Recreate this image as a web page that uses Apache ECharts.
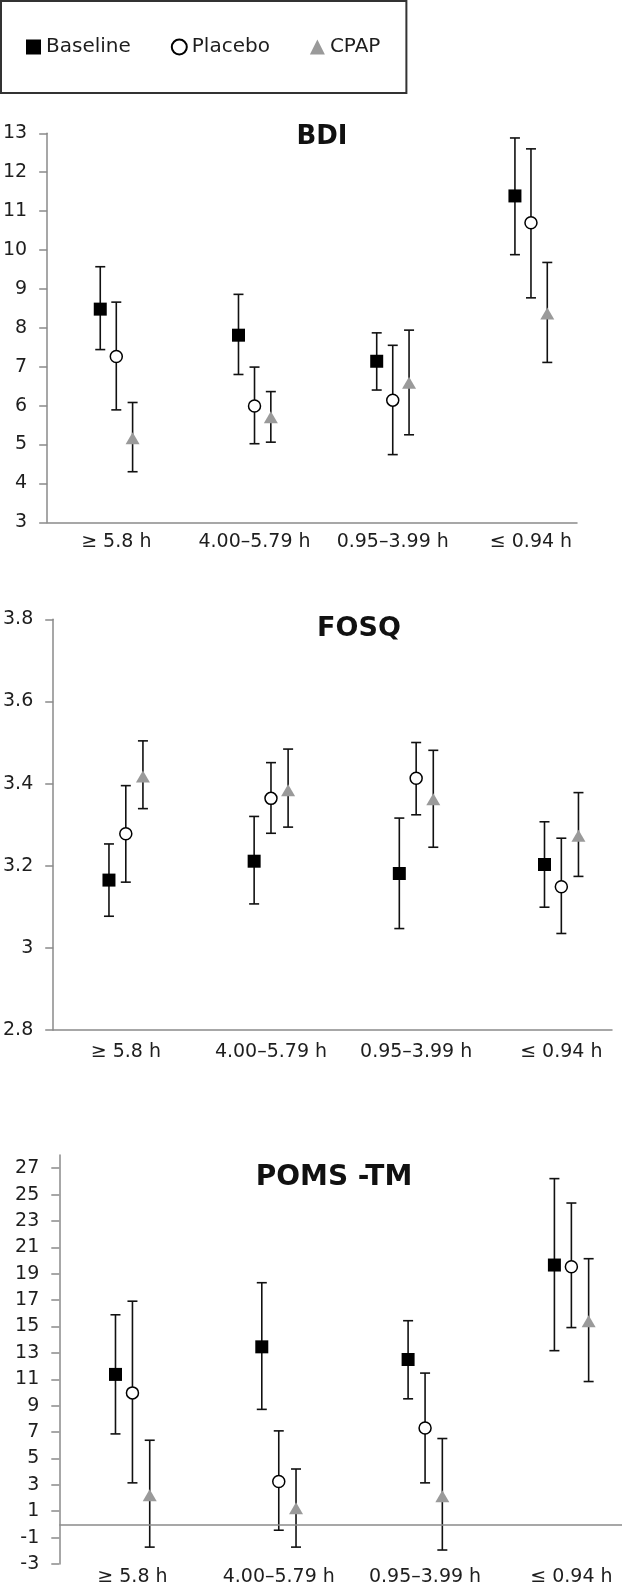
<!DOCTYPE html>
<html><head><meta charset="utf-8">
<script src="https://cdn.jsdelivr.net/npm/echarts@6/dist/echarts.min.js"></script>
<style>html,body{margin:0;padding:0;background:#fff}#c{width:622px;height:1587px}</style>
</head><body><div id="c"></div>
<script>
// ---------- DATA ----------
const categories = ['≥ 5.8 h', '4.00–5.79 h', '0.95–3.99 h', '≤ 0.94 h'];
const seriesNames = ['Baseline', 'Placebo', 'CPAP'];

const bdiYTicks  = [3, 4, 5, 6, 7, 8, 9, 10, 11, 12, 13];
const fosqYTicks = [2.8, 3.0, 3.2, 3.4, 3.6, 3.8];
const pomsYTicks = [-3, -1, 1, 3, 5, 7, 9, 11, 13, 15, 17, 19, 21, 23, 25, 27];

// BDI
const bdiBaselineMean = [8.48, 7.81, 7.14, 11.39];
const bdiBaselineLow  = [7.44, 6.80, 6.40, 9.88];
const bdiBaselineHigh = [9.57, 8.86, 7.87, 12.88];
const bdiPlaceboMean  = [7.26, 5.99, 6.14, 10.70];
const bdiPlaceboLow   = [5.89, 5.02, 4.74, 8.77];
const bdiPlaceboHigh  = [8.66, 6.99, 7.55, 12.60];
const bdiCpapMean     = [5.16, 5.70, 6.59, 8.37];
const bdiCpapLow      = [4.30, 5.06, 5.25, 7.11];
const bdiCpapHigh     = [6.08, 6.36, 7.94, 9.68];

// FOSQ
const fosqBaselineMean = [3.165, 3.211, 3.181, 3.203];
const fosqBaselineLow  = [3.077, 3.107, 3.047, 3.099];
const fosqBaselineHigh = [3.253, 3.320, 3.316, 3.307];
const fosqPlaceboMean  = [3.278, 3.364, 3.413, 3.149];
const fosqPlaceboLow   = [3.160, 3.279, 3.324, 3.035];
const fosqPlaceboHigh  = [3.395, 3.451, 3.500, 3.267];
const fosqCpapMean     = [3.417, 3.384, 3.362, 3.273];
const fosqCpapLow      = [3.339, 3.294, 3.245, 3.174];
const fosqCpapHigh     = [3.504, 3.484, 3.481, 3.378];

// POMS-TM
const pomsBaselineMean = [11.37, 13.46, 12.50, 19.66];
const pomsBaselineLow  = [6.86, 8.72, 9.52, 13.17];
const pomsBaselineHigh = [15.89, 18.32, 15.44, 26.21];
const pomsPlaceboMean  = [9.97, 3.25, 7.31, 19.53];
const pomsPlaceboLow   = [3.15, -0.44, 3.15, 14.92];
const pomsPlaceboHigh  = [16.92, 7.09, 11.47, 24.36];
const pomsCpapMean     = [2.22, 1.22, 2.14, 15.39];
const pomsCpapLow      = [-1.72, -1.72, -1.94, 10.83];
const pomsCpapHigh     = [6.38, 4.20, 6.51, 20.14];

// ---------- LAYOUT / STYLE ----------
const panels = [
  { title: 'BDI', titleX: 322, titleY: 137, titleSize: 26,
    grid: { left: 45.3, right: 45, top: 133.3, bottom: 1064.7 },
    xMax: 3.333, yMin: 3, yMax: 13, yTicks: bdiYTicks, yFont: 19, xMargin: 10, xLine: true, zeroLine: false,
    mean: [bdiBaselineMean, bdiPlaceboMean, bdiCpapMean],
    low:  [bdiBaselineLow, bdiPlaceboLow, bdiCpapLow],
    high: [bdiBaselineHigh, bdiPlaceboHigh, bdiCpapHigh] },
  { title: 'FOSQ', titleX: 359, titleY: 629, titleSize: 27,
    grid: { left: 50, right: 10, top: 619.3, bottom: 557 },
    xMax: 3.349, yMin: 2.8, yMax: 3.8, yTicks: fosqYTicks, yFont: 19, xMargin: 13, xLine: true, zeroLine: false,
    mean: [fosqBaselineMean, fosqPlaceboMean, fosqCpapMean],
    low:  [fosqBaselineLow, fosqPlaceboLow, fosqCpapLow],
    high: [fosqBaselineHigh, fosqPlaceboHigh, fosqCpapHigh] },
  { title: 'POMS -TM', titleX: 334, titleY: 1178, titleSize: 28,
    grid: { left: 59.3, right: 0, top: 1155, bottom: 21 },
    xMax: 3.346, yMin: -3, yMax: 28, yTicks: pomsYTicks, yFont: 19, xMargin: 4, xLine: false, zeroLine: true,
    mean: [pomsBaselineMean, pomsPlaceboMean, pomsCpapMean],
    low:  [pomsBaselineLow, pomsPlaceboLow, pomsCpapLow],
    high: [pomsBaselineHigh, pomsPlaceboHigh, pomsCpapHigh] }
];

const dodge = [-0.116, 0, 0.118];
const axisGray = '#8a8a8a';
const textColor = '#1e1e1e';
const barColor = '#111';
const symbols = [
  { symbol: 'rect', symbolSize: 13, itemStyle: { color: '#000', opacity: 1 } },
  { symbol: 'circle', symbolSize: 12, itemStyle: { color: '#fff', borderColor: '#000', borderWidth: 1.5, opacity: 1 } },
  { symbol: 'triangle', symbolSize: [14, 12], itemStyle: { color: '#9a9a9a', opacity: 1 } }
];

function errRender(params, api) {
  const x = api.value(0), lo = api.value(1), hi = api.value(2);
  const pLo = api.coord([x, lo]);
  const pHi = api.coord([x, hi]);
  const hw = 5;
  const style = { stroke: barColor, lineWidth: 1.6 };
  return { type: 'group', children: [
    { type: 'line', shape: { x1: pHi[0], y1: pHi[1], x2: pLo[0], y2: pLo[1] }, style },
    { type: 'line', shape: { x1: pHi[0] - hw, y1: pHi[1], x2: pHi[0] + hw, y2: pHi[1] }, style },
    { type: 'line', shape: { x1: pLo[0] - hw, y1: pLo[1], x2: pLo[0] + hw, y2: pLo[1] }, style }
  ]};
}

const grids = [], xAxes = [], yAxes = [], series = [], graphics = [];
panels.forEach((p, pi) => {
  grids.push(Object.assign({ containLabel: false }, p.grid));
  xAxes.push({
    gridIndex: pi, type: 'value', min: -0.5, max: p.xMax,
    axisLine: { show: p.xLine, onZero: false, lineStyle: { color: axisGray, width: 1.5 } },
    axisTick: { show: false }, splitLine: { show: false },
    axisLabel: { customValues: [0, 1, 2, 3], formatter: v => categories[Math.round(v)],
      margin: p.xMargin, fontSize: 19, color: textColor, fontFamily: 'DejaVu Sans' }
  });
  yAxes.push({
    gridIndex: pi, type: 'value', min: p.yMin, max: p.yMax,
    axisLine: { show: true, onZero: false, lineStyle: { color: axisGray, width: 1.5 } },
    axisTick: { show: true, length: 8, customValues: p.yTicks, lineStyle: { color: axisGray, width: 1.5 } },
    splitLine: { show: false },
    axisLabel: { customValues: p.yTicks, formatter: v => String(+v.toFixed(2)),
      margin: 20, fontSize: p.yFont, color: textColor, fontFamily: 'DejaVu Sans' }
  });
  for (let s = 0; s < 3; s++) {
    series.push({
      type: 'custom', name: seriesNames[s] + ' range', xAxisIndex: pi, yAxisIndex: pi,
      renderItem: errRender, silent: true, z: 2,
      encode: { x: 0, y: [1, 2] },
      data: categories.map((c, i) => [i + dodge[s], p.low[s][i], p.high[s][i]])
    });
    const sc = Object.assign({
      type: 'scatter', name: seriesNames[s], xAxisIndex: pi, yAxisIndex: pi, z: 3, silent: true,
      data: categories.map((c, i) => [i + dodge[s], p.mean[s][i]])
    }, JSON.parse(JSON.stringify(symbols[s])));
    if (p.zeroLine && s === 0) {
      sc.markLine = { silent: true, symbol: ['none', 'none'], label: { show: false },
        lineStyle: { color: axisGray, width: 1.5, type: 'solid' }, data: [{ yAxis: 0 }] };
    }
    series.push(sc);
  }
  graphics.push({ type: 'text', x: p.titleX, y: p.titleY, silent: true,
    style: { text: p.title, fontFamily: 'DejaVu Sans', fontWeight: 'bold', fontSize: p.titleSize,
      fill: '#111', textAlign: 'center', textVerticalAlign: 'middle' } });
});

const chart = echarts.init(document.getElementById('c'), null, { renderer: 'canvas' });
chart.setOption({
  animation: false,
  backgroundColor: '#fff',
  legend: {
    data: seriesNames, left: 1, top: 1, orient: 'horizontal',
    padding: [36, 26, 36, 25], itemGap: 40, itemWidth: 15, itemHeight: 15,
    borderColor: '#333', borderWidth: 2, selectedMode: false,
    textStyle: { fontFamily: 'DejaVu Sans', fontSize: 20, color: textColor }
  },
  grid: grids, xAxis: xAxes, yAxis: yAxes, series: series, graphic: graphics
});
</script></body></html>
